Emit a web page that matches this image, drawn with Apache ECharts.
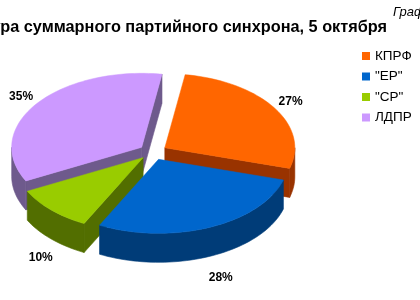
<!DOCTYPE html>
<html><head><meta charset="utf-8">
<script src="https://cdn.jsdelivr.net/npm/echarts@6/dist/echarts.min.js"></script>
<style>html,body{margin:0;padding:0;background:#fff}#c{width:420px;height:300px}</style>
</head><body><div id="c"></div>
<script>
const categories = ['КПРФ', '"ЕР"', '"СР"', 'ЛДПР'];
const values = [27, 28, 10, 35];
const labelTexts = ['27%', '28%', '10%', '35%'];
const titleText = 'Структура суммарного партийного синхрона, 5 октября';
const cornerText = 'График';

const topColors = ['#FF6600', '#0066CC', '#99CC00', '#CC99FF'];
const sideColors = ['#993300', '#003C78', '#526E00', '#6E5A8C'];
const PIE = {cx:153, cy:152, R:130, r:74, depth:29, explode:14, startAngle:9, labelR:163, labelr:94, frontLabelShift:39};
const total = values.reduce((a,b)=>a+b,0);
const rad = d => d*Math.PI/180;

function renderItem(params, api){
  const i = params.dataIndex;
  let before = 0; for (let j=0;j<i;j++) before += values[j];
  const a0 = PIE.startAngle + before/total*360;
  const a1 = a0 + api.value(0)/total*360;
  const m = (a0+a1)/2;
  const k = PIE.r/PIE.R;
  const ax = PIE.cx + PIE.explode*Math.sin(rad(m));
  const ay = PIE.cy - PIE.explode*k*Math.cos(rad(m));
  const D = PIE.depth;
  const pt = (t, dz) => [ax + PIE.R*Math.sin(rad(t)), ay - PIE.r*Math.cos(rad(t)) + (dz||0)];
  const arc = (s,e,dz) => { const pts=[]; const n=Math.max(2, Math.ceil((e-s)/2)); for(let q=0;q<=n;q++) pts.push(pt(s+(e-s)*q/n, dz)); return pts; };
  const children = [];
  const wall = (pts) => {
    let maxY = -1e9; pts.forEach(p=>{ if(p[1]>maxY) maxY=p[1]; });
    children.push({type:'polygon', shape:{points:pts}, style:{fill:sideColors[i], stroke:sideColors[i], lineWidth:0.6}, z2: Math.round(maxY)});
  };
  if (Math.sin(rad(a0)) < 0) { const p = pt(a0); wall([[ax,ay], p, [p[0],p[1]+D], [ax, ay+D]]); }
  if (Math.sin(rad(a1)) > 0) { const p = pt(a1); wall([[ax,ay], p, [p[0],p[1]+D], [ax, ay+D]]); }
  [[90,270],[450,630]].forEach(([f0,f1])=>{
    const s = Math.max(a0,f0), e = Math.min(a1,f1);
    if (e > s) {
      const topArc = arc(s,e,0);
      const botArc = arc(s,e,D).reverse();
      wall(topArc.concat(botArc));
    }
  });
  children.push({type:'polygon', shape:{points:[[ax,ay]].concat(arc(a0,a1,0))}, style:{fill:topColors[i], stroke:topColors[i], lineWidth:0.5}, z2:1000});
  const c = Math.cos(rad(m));
  const lx = PIE.cx + PIE.labelR*Math.sin(rad(m)) + (c < 0 ? 3 : 0);
  const ly = PIE.cy - PIE.labelr*c + (c < 0 ? PIE.frontLabelShift : 0);
  children.push({type:'text', x:lx, y:ly, style:{text:labelTexts[i], font:'bold 12px "Liberation Sans", Arial, sans-serif', fill:'#000', align:'center', verticalAlign:'middle'}, z2:2000});
  return {type:'group', children};
}

const chart = echarts.init(document.getElementById('c'), null, {renderer:'canvas'});
chart.setOption({
  animation:false,
  backgroundColor:'#fff',
  title:[
    {text:titleText, right:33, top:20, padding:0, textStyle:{fontFamily:'"Liberation Sans", Arial, sans-serif', fontWeight:'bold', fontSize:16.3, color:'#000'}},
    {text:cornerText, left:393, top:6, padding:0, textStyle:{fontFamily:'"Liberation Sans", Arial, sans-serif', fontStyle:'italic', fontWeight:'normal', fontSize:13, color:'#000'}}
  ],
  legend:{orient:'vertical', left:362, top:49, padding:0, icon:'rect', itemWidth:8, itemHeight:8, itemGap:6.5,
    data:categories,
    textStyle:{fontFamily:'"Liberation Sans", Arial, sans-serif', fontSize:13.5, lineHeight:14, color:'#000'}},
  series:[
    {type:'custom', coordinateSystem:'none', renderItem, data:values.map(v=>[v]), silent:true},
    {type:'pie', radius:[0,0], silent:true, label:{show:false}, labelLine:{show:false},
      data:categories.map((n,i)=>({name:n, value:values[i], itemStyle:{color:topColors[i]}}))}
  ]
});
</script></body></html>
